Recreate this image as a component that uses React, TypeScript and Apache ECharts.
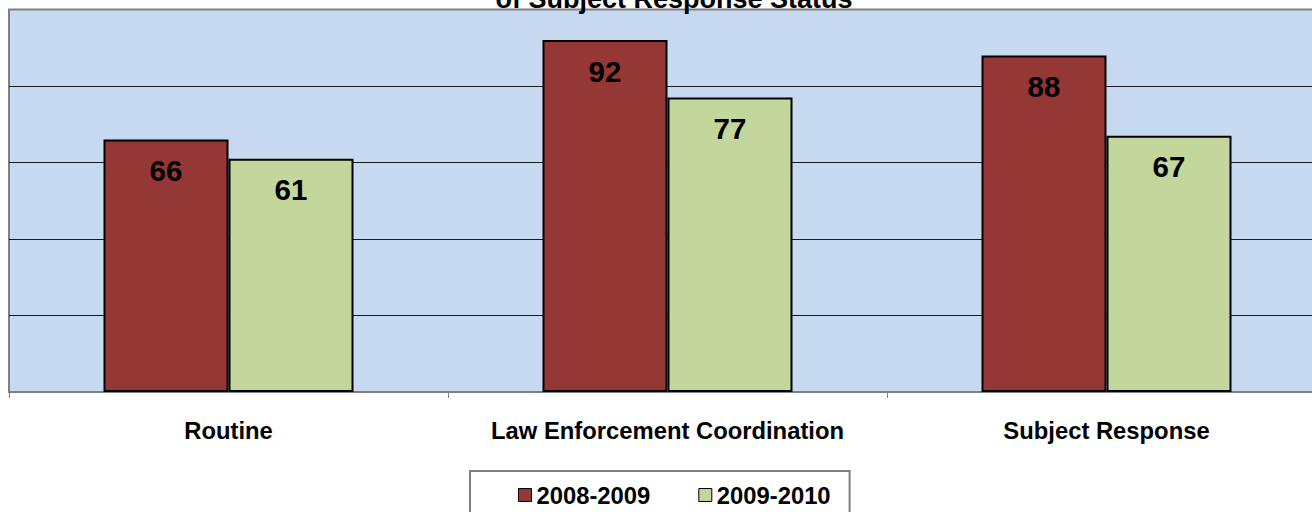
import React, { useEffect, useRef } from "react";
import * as echarts from "echarts";

const categories = ["Routine", "Law Enforcement Coordination", "Subject Response"];
const seriesNames = ["2008-2009", "2009-2010"];
const values2008 = [66, 92, 88];
const values2009 = [61, 77, 67];
const yTicks = { min: 0, max: 100, interval: 20 };
const titleText = "of Subject Response Status";

const FONT = "'Liberation Sans', Arial, sans-serif";

export default function App() {
  const ref = useRef<HTMLDivElement>(null);

  useEffect(() => {
    if (!ref.current) return;
    const chart = echarts.init(ref.current, undefined, { renderer: "svg" });

    const label = {
      show: true,
      position: "insideTop" as const,
      distance: 16,
      fontFamily: FONT,
      fontSize: 29.5,
      fontWeight: "bold" as const,
      color: "#000",
    };

    chart.setOption({
      animation: false,
      backgroundColor: "#fff",
      graphic: [
        {
          type: "text",
          x: 674,
          y: -15,
          style: {
            text: titleText,
            fontFamily: FONT,
            fontSize: 27,
            fontWeight: "bold",
            fill: "#000",
            align: "center",
            verticalAlign: "top",
          },
        },
      ],
      grid: {
        left: 9,
        top: 9.5,
        right: -14,
        bottom: 120,
        outerBoundsMode: "none",
        show: true,
        backgroundColor: "#C6D9F1",
        borderColor: "#808080",
        borderWidth: 2,
        containLabel: false,
      },
      legend: {
        data: seriesNames,
        left: 470,
        top: 471,
        padding: [12, 19, 24, 48],
        borderColor: "#808080",
        borderWidth: 2,
        itemWidth: 13,
        itemHeight: 13,
        itemGap: 48,
        icon: "rect",
        itemStyle: { borderColor: "#000", borderWidth: 1 },
        textStyle: {
          fontFamily: FONT,
          fontSize: 23.8,
          fontWeight: "bold",
          color: "#000",
        },
      },
      xAxis: {
        type: "category",
        data: categories,
        boundaryGap: true,
        axisLine: { show: true, lineStyle: { color: "#808080", width: 2 } },
        axisTick: { show: true, length: 6, lineStyle: { color: "#808080", width: 1 } },
        axisLabel: {
          interval: 0,
          hideOverlap: false,
          margin: 26,
          fontFamily: FONT,
          fontSize: 23.8,
          fontWeight: "bold",
          color: "#000",
        },
      },
      yAxis: {
        type: "value",
        min: yTicks.min,
        max: yTicks.max,
        interval: yTicks.interval,
        axisLine: { show: false },
        axisTick: { show: false },
        axisLabel: { show: false },
        splitLine: {
          show: true,
          showMinLine: false,
          showMaxLine: false,
          lineStyle: { color: "#1a1a1a", width: 1 },
        },
      },
      series: [
        {
          name: seriesNames[0],
          type: "bar",
          data: values2008,
          barWidth: 125,
          barGap: "0%",
          itemStyle: { color: "#953735", borderColor: "#000", borderWidth: 2 },
          label,
        },
        {
          name: seriesNames[1],
          type: "bar",
          data: values2009,
          barWidth: 125,
          barGap: "0%",
          itemStyle: { color: "#C3D69B", borderColor: "#000", borderWidth: 2 },
          label,
        },
      ],
    });

    return () => chart.dispose();
  }, []);

  return (
    <div
      ref={ref}
      style={{ position: "fixed", left: 0, top: 0, width: 1312, height: 512 }}
    />
  );
}
